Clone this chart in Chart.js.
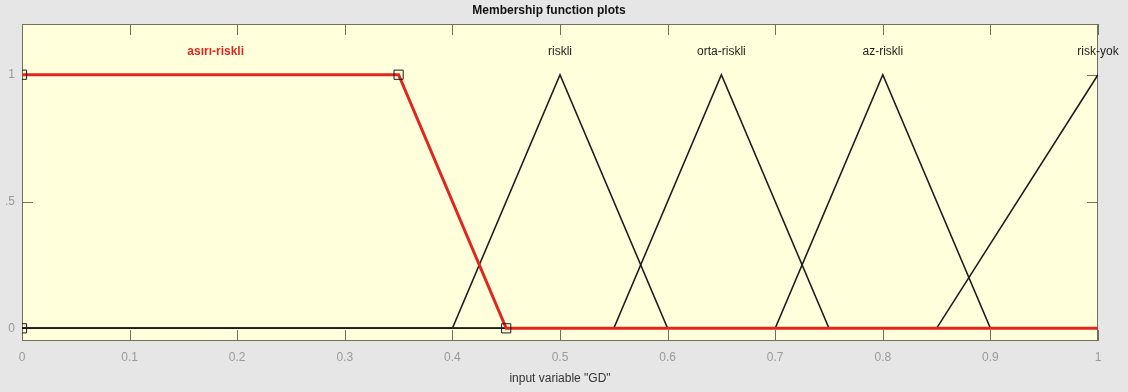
<!DOCTYPE html>
<html>
<head>
<meta charset="utf-8">
<script src="https://cdn.jsdelivr.net/npm/chart.js@4/dist/chart.umd.min.js"></script>
<style>
  html, body { margin: 0; background: #e6e6e6; }
  #wrap { width: 1128px; height: 392px; }
</style>
</head>
<body>
<div id="wrap"><canvas id="mfChart" width="1128" height="392"></canvas></div>
<script>
// membership functions of input "GD"
const mfNames = ['asırı-riskli', 'riskli', 'orta-riskli', 'az-riskli', 'risk-yok']
const mfLabelX = [0.18, 0.5, 0.65, 0.8, 1.0]

const asiriX = [0, 0.35, 0.45, 1]
const asiriY = [1, 1, 0, 0]
const asiriParamX = [0, 0, 0.35, 0.45]
const asiriParamY = [0, 1, 1, 0]

const riskliX = [0, 0.4, 0.5, 0.6, 1]
const riskliY = [0, 0, 1, 0, 0]
const ortaX = [0, 0.55, 0.65, 0.75, 1]
const ortaY = [0, 0, 1, 0, 0]
const azX = [0, 0.7, 0.8, 0.9, 1]
const azY = [0, 0, 1, 0, 0]
const yokX = [0, 0.85, 1]
const yokY = [0, 0, 1]

const yTicks = [0, 0.5, 1]

function pts(xs, ys) {
  return xs.map((x, i) => ({ x: x, y: ys[i] }))
}

function blackLine(xs, ys) {
  return {
    data: pts(xs, ys),
    borderColor: '#1c1c1c',
    borderWidth: 1.6,
    pointRadius: 0,
    fill: false,
    tension: 0
  }
}

// frame, inner ticks and background like a matlab axes
const axesBox = {
  id: 'axesBox',
  beforeDraw(chart) {
    const { ctx, chartArea: a } = chart
    ctx.save()
    ctx.fillStyle = '#e6e6e6'
    ctx.fillRect(0, 0, chart.width, chart.height)
    ctx.fillStyle = '#ffffdc'
    ctx.fillRect(a.left, a.top, a.right - a.left, a.bottom - a.top)
    ctx.restore()
  },
  beforeDatasetsDraw(chart) {
    const { ctx, chartArea: a, scales } = chart
    ctx.save()
    ctx.strokeStyle = '#6f6f5c'
    ctx.lineWidth = 1
    ctx.beginPath()
    scales.x.ticks.forEach(t => {
      const px = Math.round(scales.x.getPixelForValue(t.value)) + 0.5
      ctx.moveTo(px, a.bottom); ctx.lineTo(px, a.bottom - 11)
      ctx.moveTo(px, a.top); ctx.lineTo(px, a.top + 11)
    })
    scales.y.ticks.forEach(t => {
      const py = Math.round(scales.y.getPixelForValue(t.value)) + 0.5
      ctx.moveTo(a.left, py); ctx.lineTo(a.left + 11, py)
      ctx.moveTo(a.right, py); ctx.lineTo(a.right - 11, py)
    })
    ctx.stroke()
    ctx.strokeRect(a.left + 0.5, a.top + 0.5, a.right - a.left - 1, a.bottom - a.top - 1)
    ctx.restore()
  },
  afterDatasetsDraw(chart) {
    const { ctx, scales } = chart
    ctx.save()
    // mf names above each peak
    ctx.textAlign = 'center'
    ctx.textBaseline = 'middle'
    const ly = scales.y.getPixelForValue(1.09)
    mfNames.forEach((n, i) => {
      const lx = scales.x.getPixelForValue(mfLabelX[i])
      if (i === 0) {
        ctx.fillStyle = '#e0261f'
        ctx.font = 'bold 12px "Liberation Sans", Arial, sans-serif'
      } else {
        ctx.fillStyle = '#1e1e1e'
        ctx.font = '12px "Liberation Sans", Arial, sans-serif'
      }
      ctx.fillText(n, lx, ly)
    })
    ctx.restore()
  }
}

new Chart(document.getElementById('mfChart'), {
  type: 'line',
  data: {
    datasets: [
      {
        type: 'scatter',
        data: pts(asiriParamX, asiriParamY),
        pointStyle: 'rect',
        pointRadius: 6.5,
        pointBorderColor: '#1a1a1a',
        pointBackgroundColor: 'rgba(0,0,0,0)',
        pointBorderWidth: 1,
        showLine: false,
        clip: 0
      },
      {
        data: pts(asiriX, asiriY),
        borderColor: '#e0261f',
        borderWidth: 3,
        pointRadius: 0,
        fill: false,
        tension: 0
      },
      blackLine(riskliX, riskliY),
      blackLine(ortaX, ortaY),
      blackLine(azX, azY),
      blackLine(yokX, yokY)
    ]
  },
  options: {
    responsive: false,
    animation: false,
    devicePixelRatio: 1,
    layout: { padding: { left: 0, right: 30, top: 0, bottom: 0 } },
    plugins: {
      legend: { display: false },
      tooltip: { enabled: false },
      title: {
        display: true,
        text: 'Membership function plots',
        color: '#111',
        font: { family: '"Liberation Sans", Arial, sans-serif', size: 12, weight: 'bold' },
        padding: { top: 3, bottom: 6.6 }
      }
    },
    scales: {
      x: {
        type: 'linear',
        min: 0,
        max: 1,
        grid: { display: false, drawTicks: false },
        border: { display: false },
        ticks: {
          stepSize: 0.1,
          padding: 9,
          color: '#9a9a9a',
          font: { family: '"Liberation Sans", Arial, sans-serif', size: 12 },
          maxRotation: 0,
          callback: v => (v === 0 || v === 1) ? String(v) : v.toFixed(1)
        },
        title: {
          display: true,
          text: 'input variable "GD"',
          color: '#333',
          font: { family: '"Liberation Sans", Arial, sans-serif', size: 12 },
          padding: { top: 4, bottom: 6 }
        },
        afterFit(scale) { scale.height = 51 }
      },
      y: {
        type: 'linear',
        min: -0.05,
        max: 1.2,
        grid: { display: false, drawTicks: false },
        border: { display: false },
        afterBuildTicks(scale) { scale.ticks = yTicks.map(v => ({ value: v })) },
        ticks: {
          padding: 7,
          color: '#9a9a9a',
          font: { family: '"Liberation Sans", Arial, sans-serif', size: 12 },
          callback: v => v === 0.5 ? '.5' : String(v)
        },
        afterFit(scale) { scale.width = 22 }
      }
    }
  },
  plugins: [axesBox]
})
</script>
</body>
</html>
